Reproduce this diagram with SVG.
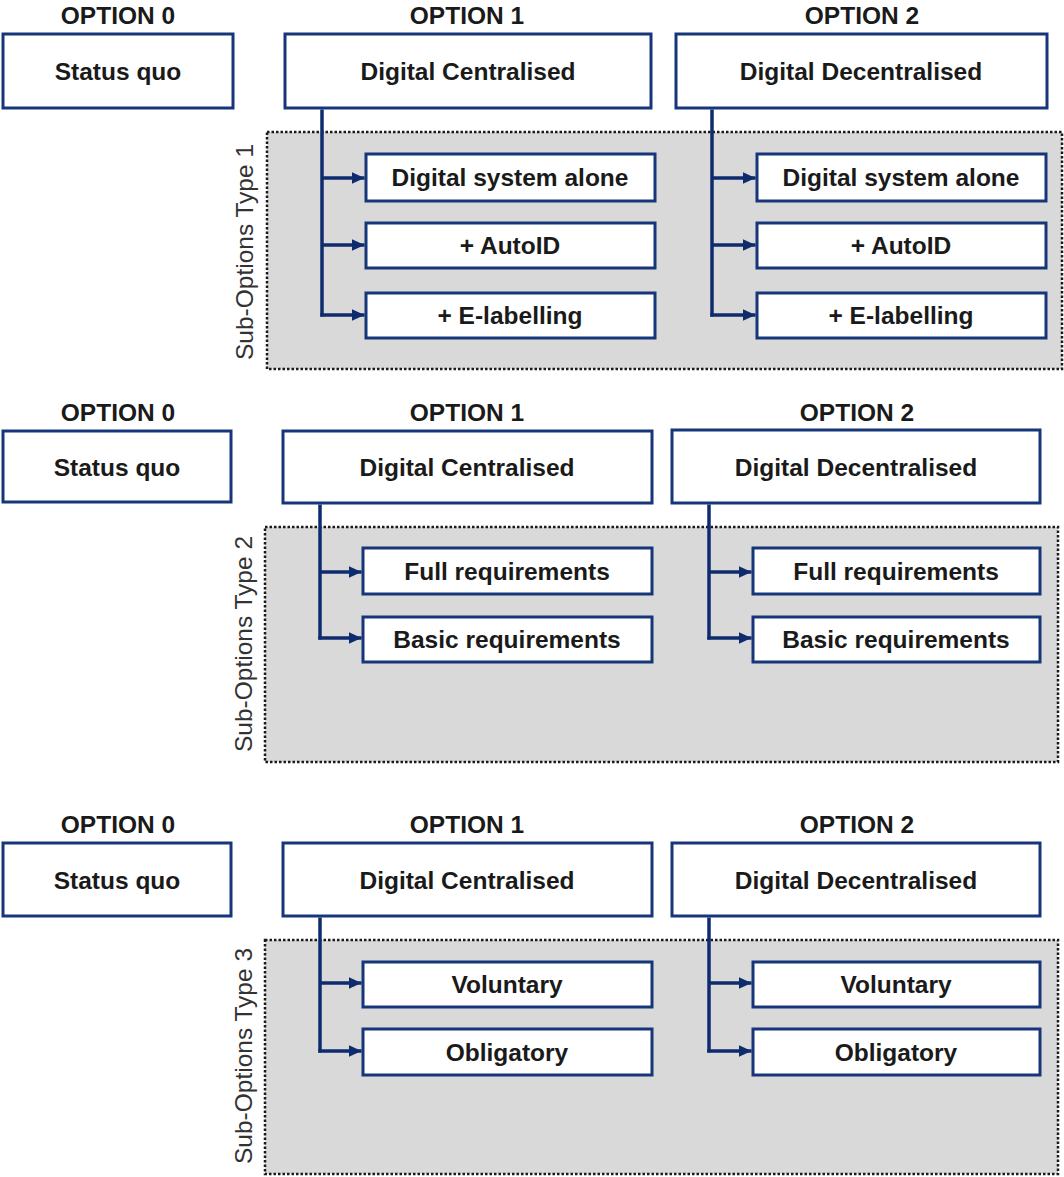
<svg xmlns="http://www.w3.org/2000/svg" width="1064" height="1177" viewBox="0 0 1064 1177">
<style>
.box{fill:#fff;stroke:#17367a;stroke-width:3}
.bg{fill:#d9d9d9;stroke:#1a1a1a;stroke-width:2.5;stroke-dasharray:2.5 2}
.t{font-family:"Liberation Sans",Arial,sans-serif;font-weight:bold;font-size:24.5px;fill:#1a1a1a;text-anchor:middle}
.lbl{font-family:"Liberation Sans",Arial,sans-serif;font-size:24.5px;fill:#333;text-anchor:middle}
.conn{fill:none;stroke:#0e2b6e;stroke-width:3.5}
.br{fill:none;stroke:#0e2b6e;stroke-width:3.5;marker-end:url(#ah)}
</style>
<defs>
<marker id="ah" markerUnits="userSpaceOnUse" markerWidth="14" markerHeight="12" refX="13" refY="6" orient="auto">
<path d="M0,0 L13,6 L0,12 z" fill="#0e2b6e"/>
</marker>
</defs>
<rect width="1064" height="1177" fill="#fff"/>

<!-- Panel 1 -->
<g id="panel1-bg">
<rect class="bg" x="267" y="132" width="795" height="237"/>
<text class="lbl" transform="translate(253,252) rotate(-90)">Sub-Options Type 1</text>
</g>
<g id="p1-opt0"><text class="t" x="118" y="24">OPTION 0</text><rect class="box" x="3" y="34" width="230" height="74"/><text class="t" x="118" y="80">Status quo</text></g>
<g id="p1-opt1"><text class="t" x="467" y="24">OPTION 1</text><rect class="box" x="285" y="34" width="366" height="74"/><text class="t" x="468" y="80">Digital Centralised</text></g>
<g id="p1-opt2"><text class="t" x="862" y="24">OPTION 2</text><rect class="box" x="676" y="34" width="371" height="74"/><text class="t" x="861" y="80">Digital Decentralised</text></g>
<g id="p1-o1-s1"><rect class="box" x="366" y="154" width="289" height="47"/><text class="t" x="510" y="186">Digital system alone</text></g>
<g id="p1-o1-s2"><rect class="box" x="366" y="223" width="289" height="45"/><text class="t" x="510" y="254">+ AutoID</text></g>
<g id="p1-o1-s3"><rect class="box" x="366" y="293" width="289" height="45"/><text class="t" x="510" y="324">+ E-labelling</text></g>
<g id="p1-o2-s1"><rect class="box" x="757" y="154" width="289" height="47"/><text class="t" x="901" y="186">Digital system alone</text></g>
<g id="p1-o2-s2"><rect class="box" x="757" y="223" width="289" height="45"/><text class="t" x="901" y="254">+ AutoID</text></g>
<g id="p1-o2-s3"><rect class="box" x="757" y="293" width="289" height="45"/><text class="t" x="901" y="324">+ E-labelling</text></g>

<!-- Panel 2 -->
<g id="panel2-bg">
<rect class="bg" x="265" y="527" width="793" height="235"/>
<text class="lbl" transform="translate(252,644) rotate(-90)">Sub-Options Type 2</text>
</g>
<g id="p2-opt0"><text class="t" x="118" y="421">OPTION 0</text><rect class="box" x="3" y="431" width="228" height="71"/><text class="t" x="117" y="476">Status quo</text></g>
<g id="p2-opt1"><text class="t" x="467" y="421">OPTION 1</text><rect class="box" x="283" y="431" width="369" height="72"/><text class="t" x="467" y="476">Digital Centralised</text></g>
<g id="p2-opt2"><text class="t" x="857" y="421">OPTION 2</text><rect class="box" x="672" y="430" width="368" height="73"/><text class="t" x="856" y="476">Digital Decentralised</text></g>
<g id="p2-o1-s1"><rect class="box" x="363" y="548" width="289" height="46"/><text class="t" x="507" y="580">Full requirements</text></g>
<g id="p2-o1-s2"><rect class="box" x="363" y="617" width="289" height="45"/><text class="t" x="507" y="648">Basic requirements</text></g>
<g id="p2-o2-s1"><rect class="box" x="753" y="548" width="287" height="46"/><text class="t" x="896" y="580">Full requirements</text></g>
<g id="p2-o2-s2"><rect class="box" x="753" y="617" width="287" height="45"/><text class="t" x="896" y="648">Basic requirements</text></g>

<!-- Panel 3 -->
<g id="panel3-bg">
<rect class="bg" x="265" y="940" width="793" height="234"/>
<text class="lbl" transform="translate(252,1056) rotate(-90)">Sub-Options Type 3</text>
</g>
<g id="p3-opt0"><text class="t" x="118" y="833">OPTION 0</text><rect class="box" x="3" y="843" width="228" height="73"/><text class="t" x="117" y="889">Status quo</text></g>
<g id="p3-opt1"><text class="t" x="467" y="833">OPTION 1</text><rect class="box" x="283" y="843" width="369" height="73"/><text class="t" x="467" y="889">Digital Centralised</text></g>
<g id="p3-opt2"><text class="t" x="857" y="833">OPTION 2</text><rect class="box" x="672" y="843" width="368" height="73"/><text class="t" x="856" y="889">Digital Decentralised</text></g>
<g id="p3-o1-s1"><rect class="box" x="363" y="962" width="289" height="45"/><text class="t" x="507" y="993">Voluntary</text></g>
<g id="p3-o1-s2"><rect class="box" x="363" y="1029" width="289" height="46"/><text class="t" x="507" y="1061">Obligatory</text></g>
<g id="p3-o2-s1"><rect class="box" x="753" y="962" width="287" height="45"/><text class="t" x="896" y="993">Voluntary</text></g>
<g id="p3-o2-s2"><rect class="box" x="753" y="1029" width="287" height="46"/><text class="t" x="896" y="1061">Obligatory</text></g>

<g id="connectors">
<path class="conn" d="M322,109.5 V316.5"/>
<path class="br" d="M322,178 H364.5"/>
<path class="br" d="M322,245 H364.5"/>
<path class="br" d="M320.25,315 H364.5"/>
<path class="conn" d="M712,109.5 V316.5"/>
<path class="br" d="M712,178 H755.5"/>
<path class="br" d="M712,245 H755.5"/>
<path class="br" d="M710.25,315 H755.5"/>
<path class="conn" d="M320,504.5 V639.5"/>
<path class="br" d="M320,572 H361.5"/>
<path class="br" d="M318.25,638 H361.5"/>
<path class="conn" d="M709,504.5 V639.5"/>
<path class="br" d="M709,572 H751.5"/>
<path class="br" d="M707.25,638 H751.5"/>
<path class="conn" d="M320,917.5 V1052.5"/>
<path class="br" d="M320,983 H361.5"/>
<path class="br" d="M318.25,1051 H361.5"/>
<path class="conn" d="M709,917.5 V1052.5"/>
<path class="br" d="M709,983 H751.5"/>
<path class="br" d="M707.25,1051 H751.5"/>
</g>
</svg>
